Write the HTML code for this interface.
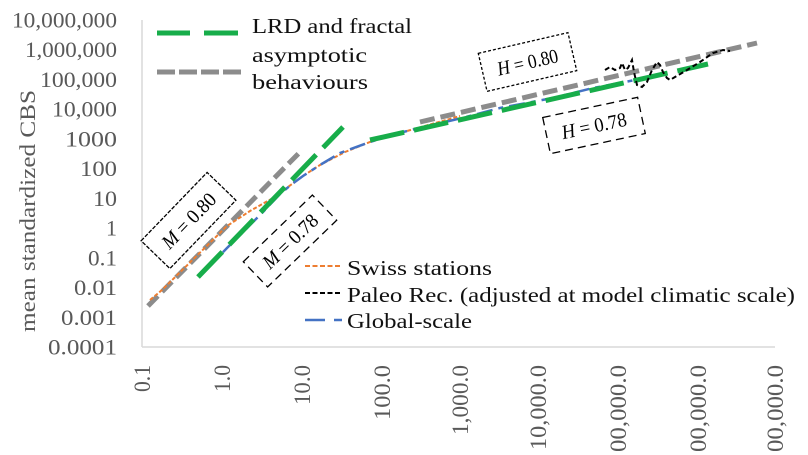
<!DOCTYPE html>
<html>
<head>
<meta charset="utf-8">
<style>
html,body{margin:0;padding:0;background:#fff;width:808px;height:455px;overflow:hidden;}
svg{display:block;overflow:hidden;}
text{font-family:"Liberation Serif","DejaVu Serif",serif;}
</style>
</head>
<body>
<svg width="808" height="455" viewBox="0 0 808 455" xmlns="http://www.w3.org/2000/svg">
<rect width="808" height="455" fill="#fff"/>

<!-- axes -->
<line x1="142" y1="20" x2="142" y2="347" stroke="#d9d9d9" stroke-width="1.5"/>
<line x1="142" y1="347" x2="775" y2="347" stroke="#d9d9d9" stroke-width="1.5"/>

<!-- y tick labels -->
<g fill="#595959" font-size="22" text-anchor="end">
<text x="117" y="27.5" textLength="105" lengthAdjust="spacingAndGlyphs">10,000,000</text>
<text x="117" y="57.2" textLength="92" lengthAdjust="spacingAndGlyphs">1,000,000</text>
<text x="117" y="86.9" textLength="77" lengthAdjust="spacingAndGlyphs">100,000</text>
<text x="117" y="116.7" textLength="65" lengthAdjust="spacingAndGlyphs">10,000</text>
<text x="117" y="146.4" textLength="52" lengthAdjust="spacingAndGlyphs">1000</text>
<text x="117" y="176.1" textLength="37" lengthAdjust="spacingAndGlyphs">100</text>
<text x="117" y="205.9" textLength="24" lengthAdjust="spacingAndGlyphs">10</text>
<text x="117" y="235.6">1</text>
<text x="117" y="265.3" textLength="29" lengthAdjust="spacingAndGlyphs">0.1</text>
<text x="117" y="295" textLength="43" lengthAdjust="spacingAndGlyphs">0.01</text>
<text x="117" y="324.8" textLength="56" lengthAdjust="spacingAndGlyphs">0.001</text>
<text x="117" y="354.5" textLength="69" lengthAdjust="spacingAndGlyphs">0.0001</text>
</g>

<!-- axis title -->
<text transform="translate(35,211) rotate(-90)" fill="#595959" font-size="22" text-anchor="middle" textLength="242" lengthAdjust="spacingAndGlyphs">mean standardized CBS</text>

<!-- x tick labels -->
<g fill="#595959" font-size="23" text-anchor="end">
<text transform="translate(150,365) rotate(-90)" textLength="27" lengthAdjust="spacingAndGlyphs">0.1</text>
<text transform="translate(230,365) rotate(-90)" textLength="27" lengthAdjust="spacingAndGlyphs">1.0</text>
<text transform="translate(310,365) rotate(-90)" textLength="40" lengthAdjust="spacingAndGlyphs">10.0</text>
<text transform="translate(390,365) rotate(-90)" textLength="55" lengthAdjust="spacingAndGlyphs">100.0</text>
<text transform="translate(468,365) rotate(-90)" textLength="70" lengthAdjust="spacingAndGlyphs">1,000.0</text>
<text transform="translate(546,365) rotate(-90)" textLength="85" lengthAdjust="spacingAndGlyphs">10,000.0</text>
<text transform="translate(626,365) rotate(-90)" textLength="87" lengthAdjust="spacingAndGlyphs">00,000.0</text>
<text transform="translate(706,365) rotate(-90)" textLength="87" lengthAdjust="spacingAndGlyphs">00,000.0</text>
<text transform="translate(783,365) rotate(-90)" textLength="87" lengthAdjust="spacingAndGlyphs">00,000.0</text>
</g>

<!-- series -->
<line x1="148" y1="306" x2="302" y2="150" stroke="#8c8c8c" stroke-width="5" stroke-dasharray="14 6"/>
<line x1="420" y1="122" x2="757" y2="43" stroke="#8c8c8c" stroke-width="5" stroke-dasharray="15 6"/>

<polyline fill="none" stroke="#ed7d31" stroke-width="2" stroke-dasharray="4 2" points="150,300 162,290 227,226 250,211 273,198 303,176 320,165 345,152 370,142 400,133 460,116"/>

<polyline fill="none" stroke="#4472c4" stroke-width="2.5" stroke-dasharray="16 6 5 6" points="200,276 227,248 263,212 280,194 292,184 303,176 320,165 340,153 370,142 403,132 462,118 500,108 553,98 593,88 625,82 635,80"/>

<line x1="198" y1="277" x2="343" y2="127" stroke="#17ad4a" stroke-width="5" stroke-dasharray="35 10"/>
<line x1="370" y1="140" x2="708" y2="64" stroke="#17ad4a" stroke-width="5" stroke-dasharray="35 10"/>

<polyline fill="none" stroke="#000" stroke-width="2" stroke-dasharray="5 3" points="605,70 610,67 615,70 620,68 622,63 625,70 628,68 632,60 634,72 637,85 642,87 647,82 652,70 657,62 660,65 663,72 667,78 670,80 675,77 687,70 700,62 713,53 723,50 730,51"/>

<!-- annotation boxes -->
<g transform="translate(188.5,220.5) rotate(-46)">
<rect x="-47.5" y="-20" width="95" height="40" fill="#fff" stroke="#000" stroke-width="1.3" stroke-dasharray="4 1.5"/>
<text x="0" y="7" font-size="20" text-anchor="middle" textLength="69" lengthAdjust="spacingAndGlyphs"><tspan font-style="italic">M</tspan> = 0.80</text>
</g>
<g transform="translate(290,241) rotate(-44)">
<rect x="-48" y="-17.5" width="96" height="35" fill="#fff" stroke="#000" stroke-width="1.3" stroke-dasharray="8 5"/>
<text x="0" y="7" font-size="20" text-anchor="middle" textLength="69" lengthAdjust="spacingAndGlyphs"><tspan font-style="italic">M</tspan> = 0.78</text>
</g>
<g transform="translate(527.5,62) rotate(-13)">
<rect x="-46" y="-19.5" width="92" height="39" fill="#fff" stroke="#000" stroke-width="1.3" stroke-dasharray="3 2"/>
<text x="0" y="7" font-size="20" text-anchor="middle" textLength="62" lengthAdjust="spacingAndGlyphs"><tspan font-style="italic">H</tspan> = 0.80</text>
</g>
<g transform="translate(594,125.5) rotate(-12)">
<rect x="-48.5" y="-18.5" width="97" height="37" fill="#fff" stroke="#000" stroke-width="1.3" stroke-dasharray="8 5"/>
<text x="0" y="7" font-size="20" text-anchor="middle" textLength="66" lengthAdjust="spacingAndGlyphs"><tspan font-style="italic">H</tspan> = 0.78</text>
</g>

<!-- upper legend -->
<line x1="157" y1="33" x2="190" y2="33" stroke="#17ad4a" stroke-width="5"/>
<line x1="204" y1="33" x2="238" y2="33" stroke="#17ad4a" stroke-width="5"/>
<line x1="157" y1="72" x2="243" y2="72" stroke="#8c8c8c" stroke-width="5" stroke-dasharray="18 4"/>
<g fill="#111" font-size="21">
<text x="252" y="33" textLength="160" lengthAdjust="spacingAndGlyphs">LRD and fractal</text>
<text x="252" y="62" textLength="115" lengthAdjust="spacingAndGlyphs">asymptotic</text>
<text x="252" y="89" textLength="116" lengthAdjust="spacingAndGlyphs">behaviours</text>
</g>

<!-- lower legend -->
<line x1="305" y1="266" x2="342" y2="266" stroke="#ed7d31" stroke-width="2" stroke-dasharray="5 2.5"/>
<line x1="305" y1="293" x2="342" y2="293" stroke="#000" stroke-width="2" stroke-dasharray="5 2.5"/>
<line x1="305" y1="320" x2="325" y2="320" stroke="#4472c4" stroke-width="2.5"/>
<line x1="334" y1="320" x2="342" y2="320" stroke="#4472c4" stroke-width="2.5"/>
<g fill="#111" font-size="21">
<text x="347" y="275" textLength="145" lengthAdjust="spacingAndGlyphs">Swiss stations</text>
<text x="347" y="302" textLength="448" lengthAdjust="spacingAndGlyphs">Paleo Rec. (adjusted at model climatic scale)</text>
<text x="347" y="328" textLength="125" lengthAdjust="spacingAndGlyphs">Global-scale</text>
</g>
</svg>
</body>
</html>
